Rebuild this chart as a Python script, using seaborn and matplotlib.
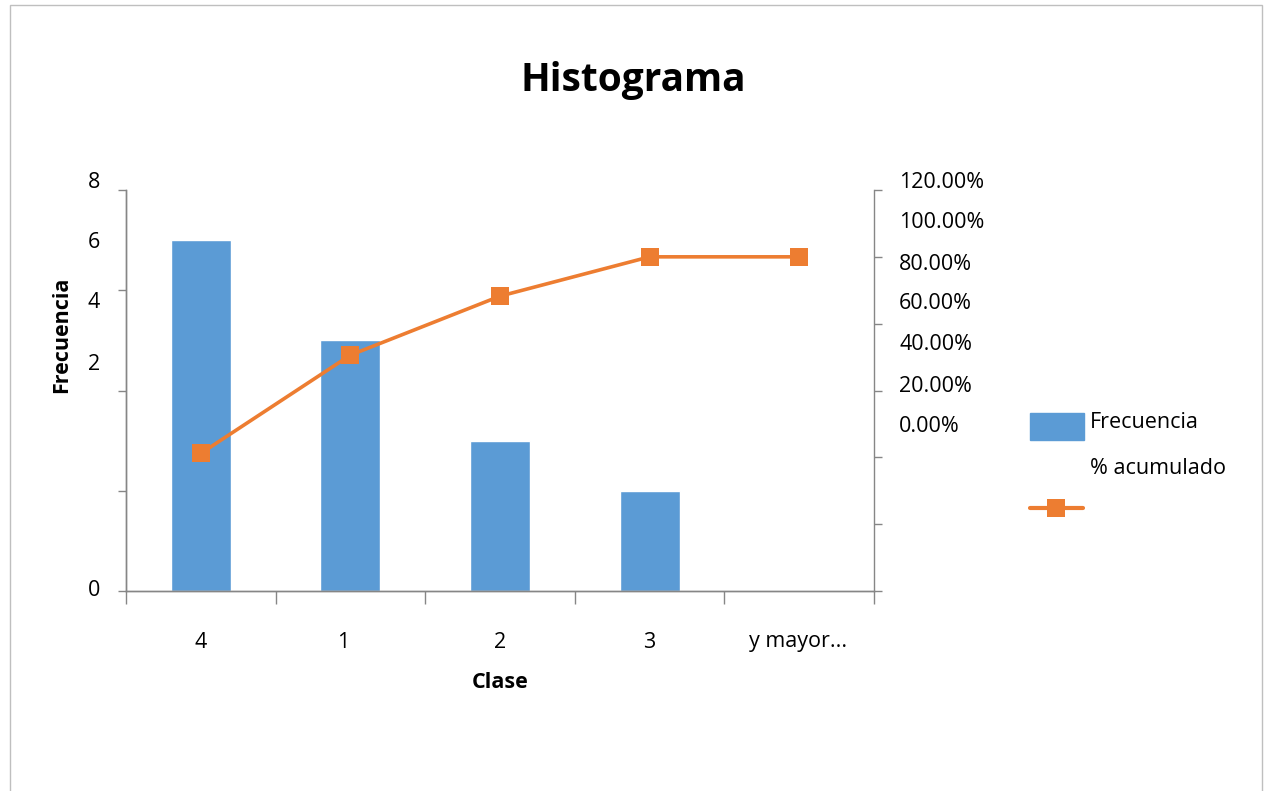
import numpy as np
import seaborn as sns
import matplotlib.pyplot as plt
from matplotlib.patches import Rectangle
from matplotlib.lines import Line2D

# data
clases = ['4', '1', '2', '3', 'y mayor...']
frecuencia = [7, 5, 3, 2, 0]
acumulado = [41.18, 70.59, 88.24, 100.0, 100.0]

# tick labels as the chart prints them
left_labels = ['8', '6', '4', '2', '0']
right_labels = ['120.00%', '100.00%', '80.00%', '60.00%', '40.00%', '20.00%', '0.00%']

BLUE = '#5B9BD5'
ORANGE = '#ED7D31'
GRAY = '#868686'
W, H = 1272, 791
FS = 15.5

sns.set_style('white')
plt.rcParams['font.family'] = ['Open Sans', 'DejaVu Sans']
plt.rcParams['text.color'] = 'black'


def fx(x):
    return x / W


def fy(y):
    return 1 - y / H


fig = plt.figure(figsize=(W / 100, H / 100), dpi=100)
ax = fig.add_axes([fx(126), fy(591), fx(874) - fx(126), fy(190) - fy(591)])

sns.barplot(x=clases, y=frecuencia, color=BLUE, width=0.4, saturation=1, ax=ax)
ax.set_xlim(-0.5, len(clases) - 0.5)
ax.set_ylim(0, 8)
ax.set_yticks([0, 2, 4, 6, 8])
ax.set_yticklabels([])
ax.set_xticks(np.arange(len(clases)))
ax.set_xticklabels([])
ax.set_xticks(np.arange(len(clases) + 1) - 0.5, minor=True)
ax.tick_params(axis='x', which='major', length=0)
ax.tick_params(axis='x', which='minor', length=9.5, width=1, color=GRAY, direction='out', bottom=True)
ax.tick_params(axis='y', length=6, width=1, color=GRAY, direction='out', left=True)
ax.set_xlabel('')
ax.set_ylabel('')

ax2 = ax.twinx()
sns.lineplot(x=np.arange(len(clases)), y=acumulado, color=ORANGE, linewidth=2.6,
             marker='s', markersize=13.5, markeredgewidth=0, ax=ax2)
ax2.set_ylim(0, 120)
ax2.set_yticks(np.arange(0, 121, 20))
ax2.set_yticklabels([])
ax2.tick_params(axis='y', length=6, width=1, color=GRAY, direction='out', right=True)

for a in (ax, ax2):
    a.spines['top'].set_visible(False)
    for s in ('left', 'right', 'bottom'):
        a.spines[s].set_color(GRAY)
        a.spines[s].set_linewidth(1)
ax.spines['right'].set_visible(False)

# tick labels placed where the chart prints them
for lab, y in zip(left_labels, [183, 242, 302, 365, 590]):
    fig.text(fx(100), fy(y), lab, ha='right', va='center', fontsize=FS)
for lab, y in zip(right_labels, [183, 222, 264, 304, 345, 386, 427]):
    fig.text(fx(899), fy(y), lab, ha='left', va='center', fontsize=FS)
for lab, x in zip(clases, [201, 343, 500, 649, 798]):
    fig.text(fx(x), fy(642), lab, ha='center', va='center', fontsize=FS)

fig.text(fx(633), fy(80), 'Histograma', ha='center', va='center', fontsize=28, fontweight='bold')
fig.text(fx(500), fy(682), 'Clase', ha='center', va='center', fontsize=FS, fontweight='bold')
fig.text(fx(62), fy(335), 'Frecuencia', ha='center', va='center', fontsize=FS,
         fontweight='bold', rotation=90)

# legend as laid out in the chart
fig.patches.append(Rectangle((fx(1030), fy(440)), fx(54), fy(413) - fy(440),
                             transform=fig.transFigure, color=BLUE))
fig.text(fx(1090), fy(422), 'Frecuencia', ha='left', va='center', fontsize=FS)
fig.text(fx(1090), fy(468), '% acumulado', ha='left', va='center', fontsize=FS)
fig.lines.append(Line2D([fx(1030), fx(1083)], [fy(508), fy(508)], transform=fig.transFigure,
                        color=ORANGE, linewidth=3))
fig.lines.append(Line2D([fx(1056)], [fy(508)], transform=fig.transFigure, color=ORANGE,
                        marker='s', markersize=13.5, markeredgewidth=0))

# outer frame
fig.patches.append(Rectangle((fx(10), fy(800)), fx(1252), fy(5) - fy(800),
                             transform=fig.transFigure, fill=False, edgecolor='#BFBFBF', linewidth=1))

plt.savefig('out.png', dpi=100)
